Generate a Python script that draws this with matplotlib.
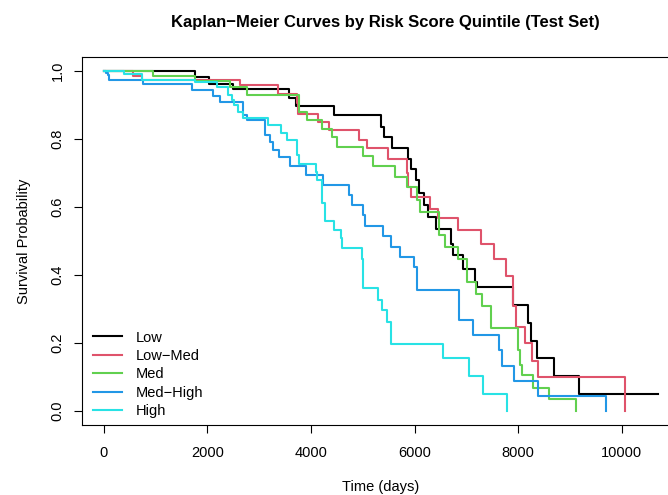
import matplotlib
matplotlib.use("Agg")
import matplotlib.pyplot as plt

plt.rcParams['font.family'] = ['Liberation Sans', 'DejaVu Sans']

# Kaplan-Meier step data (time in days, survival)
groups = ["Low", "Low\u2212Med", "Med", "Med\u2212High", "High"]
colors = ["#000000", "#DF536B", "#61D04F", "#2297E6", "#28E2E5"]

low_t = [0, 1760, 2035, 2500, 3580, 3710, 4450, 5360, 5410, 5565, 5880, 5925,
         6030, 6090, 6180, 6265, 6415, 6705, 6735, 6940, 7170, 7200, 7910,
         8200, 8240, 8360, 8695, 9180, 10700]
low_s = [1.0, 0.982, 0.962, 0.945, 0.920, 0.897, 0.870, 0.835, 0.806, 0.773,
         0.740, 0.710, 0.678, 0.642, 0.605, 0.571, 0.534, 0.492, 0.458, 0.416,
         0.380, 0.363, 0.312, 0.260, 0.206, 0.155, 0.103, 0.051, 0.051]

lowmed_t = [0, 560, 730, 2630, 3355, 3720, 3755, 4140, 4355, 4930, 5090, 5495,
            5850, 5870, 5940, 6300, 6460, 6845, 7280, 7535, 7760, 7910, 7960,
            8140, 8270, 8390, 10065]
lowmed_s = [1.0, 0.985, 0.974, 0.957, 0.933, 0.905, 0.874, 0.850, 0.825,
            0.796, 0.772, 0.740, 0.700, 0.657, 0.629, 0.595, 0.566, 0.532,
            0.490, 0.448, 0.396, 0.308, 0.248, 0.199, 0.148, 0.100, 0.0]

med_t = [0, 955, 1760, 2435, 2755, 3770, 3920, 4205, 4400, 4495, 4998, 5205,
         5620, 5860, 6040, 6105, 6480, 6590, 6845, 7010, 7185, 7295, 7470,
         8005, 8040, 8080, 8290, 8600, 9120]
med_s = [1.0, 0.985, 0.969, 0.952, 0.930, 0.879, 0.855, 0.830, 0.806, 0.776,
         0.749, 0.720, 0.688, 0.657, 0.620, 0.585, 0.517, 0.483, 0.448, 0.380,
         0.344, 0.308, 0.243, 0.179, 0.135, 0.106, 0.067, 0.034, 0.0]

medhigh_t = [0, 40, 85, 100, 760, 1695, 2110, 2240, 2690, 2760, 3110, 3205,
             3270, 3380, 3590, 3900, 4235, 4740, 4785, 4998, 5045, 5385, 5545,
             5720, 5995, 6055, 6865, 7135, 7635, 7685, 7920, 8390, 9690]
medhigh_s = [1.0, 0.994, 0.987, 0.974, 0.960, 0.943, 0.926, 0.908, 0.870,
             0.855, 0.810, 0.791, 0.768, 0.745, 0.720, 0.693, 0.664, 0.634,
             0.605, 0.576, 0.543, 0.514, 0.483, 0.453, 0.422, 0.357, 0.267,
             0.223, 0.179, 0.133, 0.089, 0.044, 0.0]

high_t = [0, 390, 730, 1760, 2175, 2400, 2465, 2515, 2595, 2690, 3175, 3415,
          3540, 3735, 3775, 4100, 4125, 4205, 4270, 4445, 4575, 4595, 4980,
          5010, 5300, 5380, 5475, 5540, 6555, 7060, 7316, 7792]
high_s = [1.0, 0.989, 0.974, 0.967, 0.952, 0.928, 0.913, 0.899, 0.879, 0.860,
          0.840, 0.818, 0.796, 0.752, 0.727, 0.703, 0.678, 0.610, 0.559, 0.532,
          0.507, 0.480, 0.448, 0.360, 0.326, 0.297, 0.262, 0.197, 0.155, 0.103,
          0.050, 0.0]

series = [(low_t, low_s), (lowmed_t, lowmed_s), (med_t, med_s),
          (medhigh_t, medhigh_s), (high_t, high_s)]

W, H = 668, 495
fig = plt.figure(figsize=(W / 100, H / 100), dpi=100)
# R plot region; right edge of the box falls just outside the image
ax = fig.add_axes([81.8 / W, 1 - 424.6 / H, (680 - 81.8) / W, (424.6 - 57.1) / H])

for (t, s), name, c in zip(series, groups, colors):
    ax.step(t, s, where='post', color=c, lw=1.5, label=name)

ax.set_xlim(-428, 11128)
ax.set_ylim(-0.04, 1.04)
ax.set_xticks([0, 2000, 4000, 6000, 8000, 10000])
ax.set_yticks([0.0, 0.2, 0.4, 0.6, 0.8, 1.0])
ax.set_yticklabels(["0.0", "0.2", "0.4", "0.6", "0.8", "1.0"], rotation=90, va='center')
ax.tick_params(direction='out', length=5.5, width=0.8, labelsize=10.5)
ax.tick_params(axis='x', pad=10)
ax.tick_params(axis='y', pad=7)
for sp in ax.spines.values():
    sp.set_linewidth(0.8)

ax.set_xlabel("Time (days)", fontsize=10.5, labelpad=14)
ax.set_ylabel("Survival Probability", fontsize=10.5, labelpad=14)
fig.text(385 / W, 1 - 23 / H, "Kaplan\u2212Meier Curves by Risk Score Quintile (Test Set)",
         ha='center', va='center', fontsize=12, fontweight='bold')

ax.legend(loc='lower left', bbox_to_anchor=(93 / W, 1 - 418 / H),
          bbox_transform=fig.transFigure, frameon=False, fontsize=10.5,
          handlelength=2.0, handletextpad=0.9, labelspacing=0.3,
          borderpad=0, borderaxespad=0)

fig.savefig("out.png", dpi=100)
